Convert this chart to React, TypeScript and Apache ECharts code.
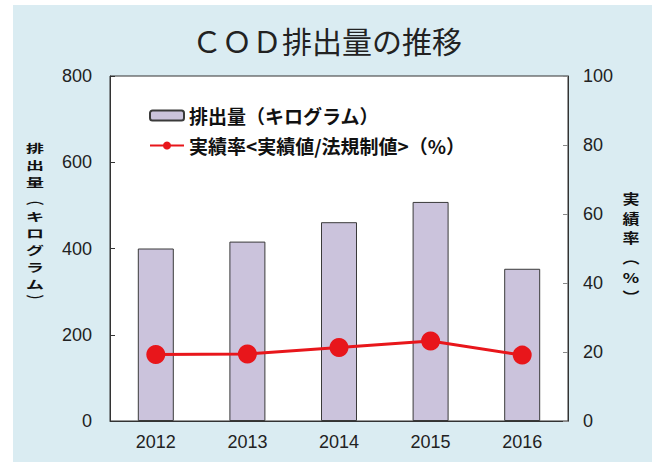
import React, { useEffect, useRef } from "react";
import * as echarts from "echarts";

const years = ["2012", "2013", "2014", "2015", "2016"];
const emissions = [400, 416, 461, 508, 353];
const rate = [19.3, 19.4, 21.3, 23.2, 19.1];
const leftTicks = { min: 0, max: 800, interval: 200 };
const rightTicks = { min: 0, max: 100, interval: 20 };

const titleText = "ＣＯＤ排出量の推移";
const barName = "排出量（キログラム）";
const lineName = "実績率<実績値/法規制値>（%）";
const leftAxisName = ["排", "出", "量", "︵", "キ", "ロ", "グ", "ラ", "ム", "︶"];
const rightAxisName = ["実", "績", "率", "︵", "%", "︶"];

const JP = '"Noto Sans CJK JP", "Noto Sans", sans-serif';
const NUM = '"Liberation Sans Narrow", "Liberation Sans", Arial, sans-serif';

function verticalText(
  chars: string[],
  x: number,
  yTop: number,
  pitch: number,
  size: number,
  sy: number
) {
  return chars.map((c, i) => ({
    type: "text",
    x,
    y: yTop + i * pitch,
    scaleY: sy,
    style: {
      text: c,
      fontFamily: JP,
      fontSize: size,
      lineHeight: size,
      fontWeight: "bold",
      fill: "#111",
      align: "center",
      verticalAlign: "middle",
    },
  }));
}

export default function App() {
  const ref = useRef<HTMLDivElement>(null);
  useEffect(() => {
    if (!ref.current) return;
    const chart = echarts.init(ref.current, undefined, { renderer: "svg" });
    chart.setOption({
      animation: false,
      backgroundColor: "#ffffff",
      title: {
        text: titleText,
        left: "center",
        top: 20,
        textStyle: { fontFamily: JP, fontSize: 30, fontWeight: "normal", color: "#222" },
      },
      graphic: [
        {
          type: "rect",
          z: -10,
          silent: true,
          shape: { x: 13, y: 5, width: 639, height: 457 },
          style: { fill: "#daecf2" },
        },
        ...verticalText(leftAxisName, 35, 148, 16.9, 18, 0.64),
        ...verticalText(rightAxisName, 631, 198, 19.6, 17, 0.8),
      ],
      legend: {
        orient: "vertical",
        left: 149,
        top: 106,
        padding: 0,
        itemWidth: 34,
        itemHeight: 10,
        itemGap: 11,
        textStyle: { fontFamily: JP, fontSize: 19, fontWeight: "bold", color: "#111" },
        data: [barName, lineName],
      },
      grid: {
        left: 110,
        right: 86,
        top: 76,
        bottom: 41,
        show: true,
        backgroundColor: "#ffffff",
        borderColor: "#333",
        borderWidth: 1,
      },
      xAxis: {
        type: "category",
        data: years,
        boundaryGap: true,
        axisLine: { lineStyle: { color: "#333", width: 1 } },
        axisTick: { inside: true, length: 5, lineStyle: { color: "#333" } },
        axisLabel: { fontFamily: NUM, fontSize: 18, color: "#222", margin: 12 },
      },
      yAxis: [
        {
          type: "value",
          ...leftTicks,
          splitLine: { show: false },
          axisLine: { show: true, lineStyle: { color: "#333" } },
          axisTick: { show: true, inside: true, length: 5, lineStyle: { color: "#333" } },
          axisLabel: { fontFamily: NUM, fontSize: 18, color: "#222", margin: 18 },
        },
        {
          type: "value",
          position: "right",
          ...rightTicks,
          splitLine: { show: false },
          axisLine: { show: true, lineStyle: { color: "#333" } },
          axisTick: { show: true, inside: true, length: 5, lineStyle: { color: "#888" } },
          axisLabel: { fontFamily: NUM, fontSize: 18, color: "#222", margin: 15 },
        },
      ],
      series: [
        {
          name: barName,
          type: "bar",
          data: emissions,
          barWidth: 36,
          itemStyle: { color: "#cbc3dc", borderColor: "#3a3a3a", borderWidth: 1 },
        },
        {
          name: lineName,
          type: "line",
          yAxisIndex: 1,
          data: rate,
          symbol: "circle",
          symbolSize: 19,
          lineStyle: { color: "#e8161b", width: 3 },
          itemStyle: { color: "#e8161b" },
        },
      ],
    });
    return () => chart.dispose();
  }, []);
  return (
    <div
      ref={ref}
      style={{ position: "absolute", left: 0, top: 0, width: 654, height: 462 }}
    />
  );
}
